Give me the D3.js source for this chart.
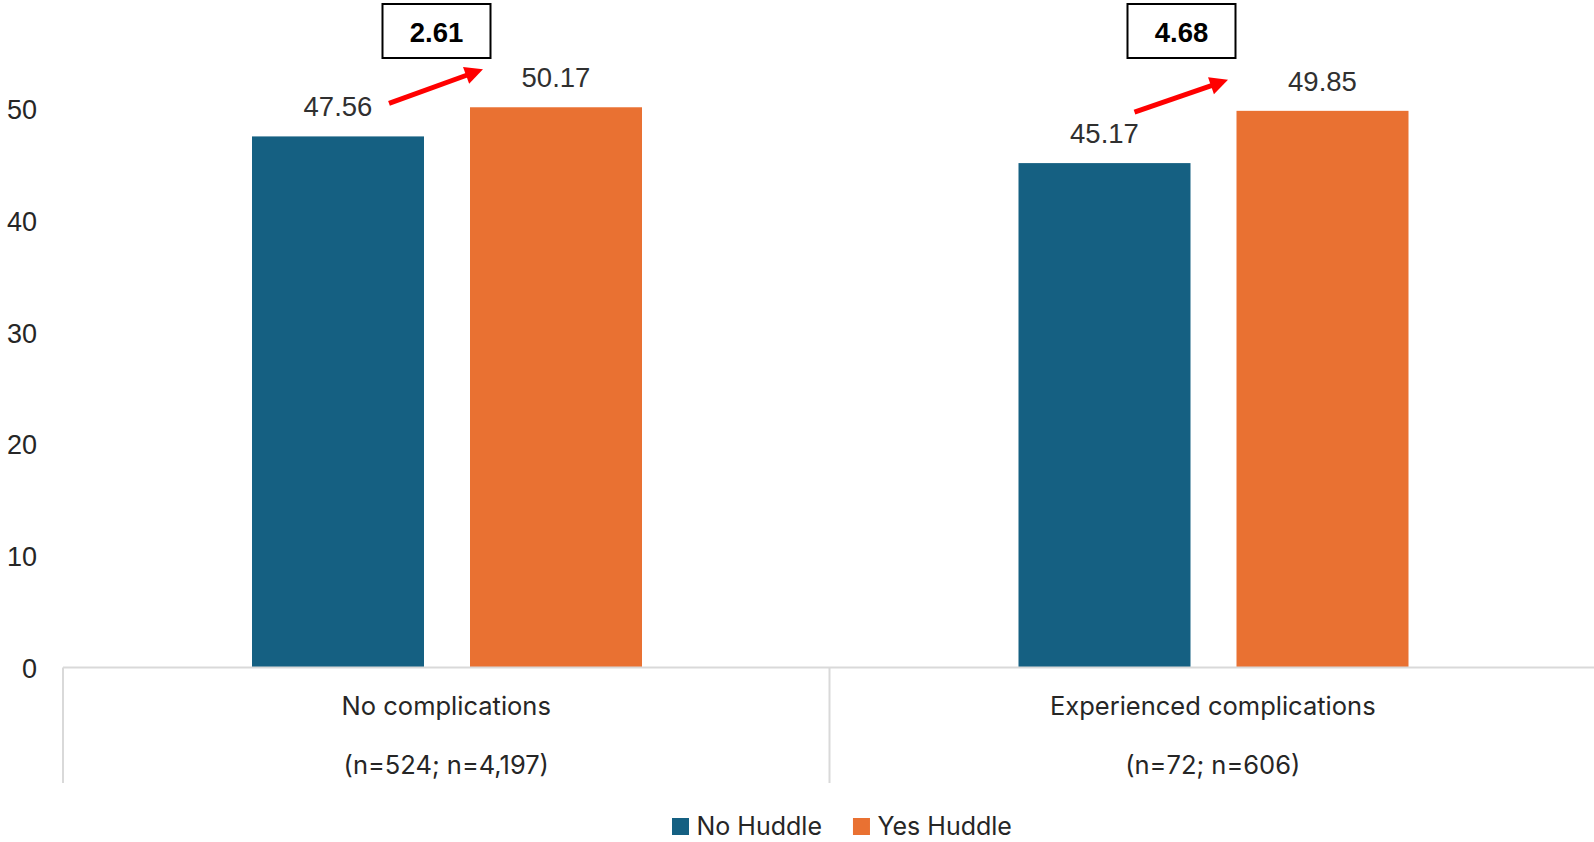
<!DOCTYPE html>
<html>
<head>
<meta charset="utf-8">
<script src="https://cdn.jsdelivr.net/npm/d3@7"></script>
<style>
  html, body { margin: 0; padding: 0; background: #ffffff; }
  svg { display: block; }
</style>
</head>
<body>
<svg id="chart" width="1594" height="842"></svg>
<script>
// Groups shown along the x axis (two label lines each)
const categories = ["No complications", "Experienced complications"];
const categorySizes = ["(n=524; n=4,197)", "(n=72; n=606)"];
// Series
const seriesNames = ["No Huddle", "Yes Huddle"];
const noHuddle = [47.56, 45.17];
const yesHuddle = [50.17, 49.85];
// Y axis ticks
const yTicks = [0, 10, 20, 30, 40, 50];

const colors = { "No Huddle": "#156082", "Yes Huddle": "#E97132" };

// Arrow placement, offsets in px from each bar's top-centre
const arrowFrom = [[51, -33], [30, -51]];
const arrowTo = [[-73, -38], [-94.5, -31]];

const svg = d3.select("#chart");
const width = 1594, height = 842;

const plotLeft = 63;
const plotBottom = 667.5;
const bandWidth = 766.5;

const y = d3.scaleLinear().domain([0, 60]).range([plotBottom, plotBottom - 670]);

const x0 = d3.scaleBand()
  .domain(categories)
  .range([plotLeft, plotLeft + bandWidth * categories.length])
  .paddingInner(0).paddingOuter(0);

const x1 = d3.scaleBand()
  .domain(seriesNames)
  .range([189, 579])
  .paddingInner(0.211).paddingOuter(0);

const rows = categories.map((c, i) => ({
  cat: c,
  size: categorySizes[i],
  values: [
    { series: "No Huddle", value: noHuddle[i] },
    { series: "Yes Huddle", value: yesHuddle[i] }
  ]
}));

// Y axis (labels only)
const yAxis = d3.axisLeft(y).tickValues(yTicks).tickSize(0).tickPadding(26);
const gy = svg.append("g").attr("transform", `translate(${plotLeft},0)`).call(yAxis);
gy.select(".domain").remove();
gy.selectAll("text")
  .attr("font-family", "'Liberation Sans', Arial, sans-serif")
  .attr("font-size", 27)
  .attr("fill", "#262626")
  .attr("dy", "0.36em");

// Bars
const groups = svg.append("g").selectAll("g")
  .data(rows).join("g")
  .attr("transform", d => `translate(${x0(d.cat)},0)`);

groups.selectAll("rect")
  .data(d => d.values).join("rect")
  .attr("x", d => x1(d.series))
  .attr("width", x1.bandwidth())
  .attr("y", d => y(d.value))
  .attr("height", d => y(0) - y(d.value))
  .attr("fill", d => colors[d.series]);

// Value labels
groups.selectAll("text.val")
  .data(d => d.values).join("text")
  .attr("class", "val")
  .attr("x", d => x1(d.series) + x1.bandwidth() / 2)
  .attr("y", d => y(d.value) - 20)
  .attr("text-anchor", "middle")
  .attr("font-family", "'Liberation Sans', Arial, sans-serif")
  .attr("font-size", 27.5)
  .attr("fill", "#303030")
  .text(d => d.value.toFixed(2));

// Category axis line and separators
const axisColor = "#d9d9d9";
svg.append("line")
  .attr("x1", plotLeft).attr("x2", width)
  .attr("y1", plotBottom).attr("y2", plotBottom)
  .attr("stroke", axisColor).attr("stroke-width", 2);

const sepX = categories.map(c => x0(c)).concat([x0.range()[1]]);
svg.append("g").selectAll("line")
  .data(sepX).join("line")
  .attr("x1", d => d).attr("x2", d => d)
  .attr("y1", plotBottom).attr("y2", 783)
  .attr("stroke", axisColor).attr("stroke-width", 2);

// Category labels
const catFont = "Inter, 'Noto Sans', sans-serif";
const cl = svg.append("g").selectAll("g")
  .data(rows).join("g")
  .attr("transform", d => `translate(${x0(d.cat) + x0.bandwidth() / 2},0)`);
cl.append("text")
  .attr("y", 715).attr("text-anchor", "middle")
  .attr("font-family", catFont).attr("font-size", 25.5).attr("fill", "#262626")
  .text(d => d.cat);
cl.append("text")
  .attr("y", 774).attr("text-anchor", "middle")
  .attr("font-family", catFont).attr("font-size", 25.5).attr("fill", "#262626")
  .text(d => d.size);

// Difference annotations: red arrow and boxed value
const ann = svg.append("g");
rows.forEach((r, i) => {
  const gx = x0(r.cat);
  const bx = gx + x1("No Huddle") + x1.bandwidth() / 2;
  const ox = gx + x1("Yes Huddle") + x1.bandwidth() / 2;
  const sx = bx + arrowFrom[i][0], sy = y(noHuddle[i]) + arrowFrom[i][1];
  const tx = ox + arrowTo[i][0], ty = y(yesHuddle[i]) + arrowTo[i][1];
  const dx = tx - sx, dy = ty - sy, len = Math.hypot(dx, dy);
  const ux = dx / len, uy = dy / len, px = -uy, py = ux;
  const headLen = 18, headHalf = 9;
  const hbx = tx - ux * headLen, hby = ty - uy * headLen;
  ann.append("line")
    .attr("x1", sx).attr("y1", sy)
    .attr("x2", hbx + ux * 2).attr("y2", hby + uy * 2)
    .attr("stroke", "#ff0000").attr("stroke-width", 5);
  ann.append("path")
    .attr("d", `M${tx},${ty}L${hbx + px * headHalf},${hby + py * headHalf}L${hbx - px * headHalf},${hby - py * headHalf}Z`)
    .attr("fill", "#ff0000");

  const diff = yesHuddle[i] - noHuddle[i];
  const cx = tx - 46.5;
  const boxW = 108, boxH = 54, boxTop = 4;
  ann.append("rect")
    .attr("x", cx - boxW / 2).attr("y", boxTop)
    .attr("width", boxW).attr("height", boxH)
    .attr("fill", "#ffffff").attr("stroke", "#000000").attr("stroke-width", 2);
  ann.append("text")
    .attr("x", cx).attr("y", 41.5)
    .attr("text-anchor", "middle")
    .attr("font-family", "'Liberation Sans', Arial, sans-serif")
    .attr("font-weight", "bold").attr("font-size", 27.5)
    .attr("fill", "#000000")
    .text(diff.toFixed(2));
});

// Legend
const legend = svg.append("g");
let lx = 672;
seriesNames.forEach(s => {
  legend.append("rect")
    .attr("x", lx).attr("y", 818)
    .attr("width", 17).attr("height", 17)
    .attr("fill", colors[s]);
  const t = legend.append("text")
    .attr("x", lx + 24.5).attr("y", 835)
    .attr("font-family", catFont).attr("font-size", 25).attr("fill", "#262626")
    .text(s);
  lx += 24.5 + t.node().getComputedTextLength() + 31;
});
</script>
</body>
</html>
